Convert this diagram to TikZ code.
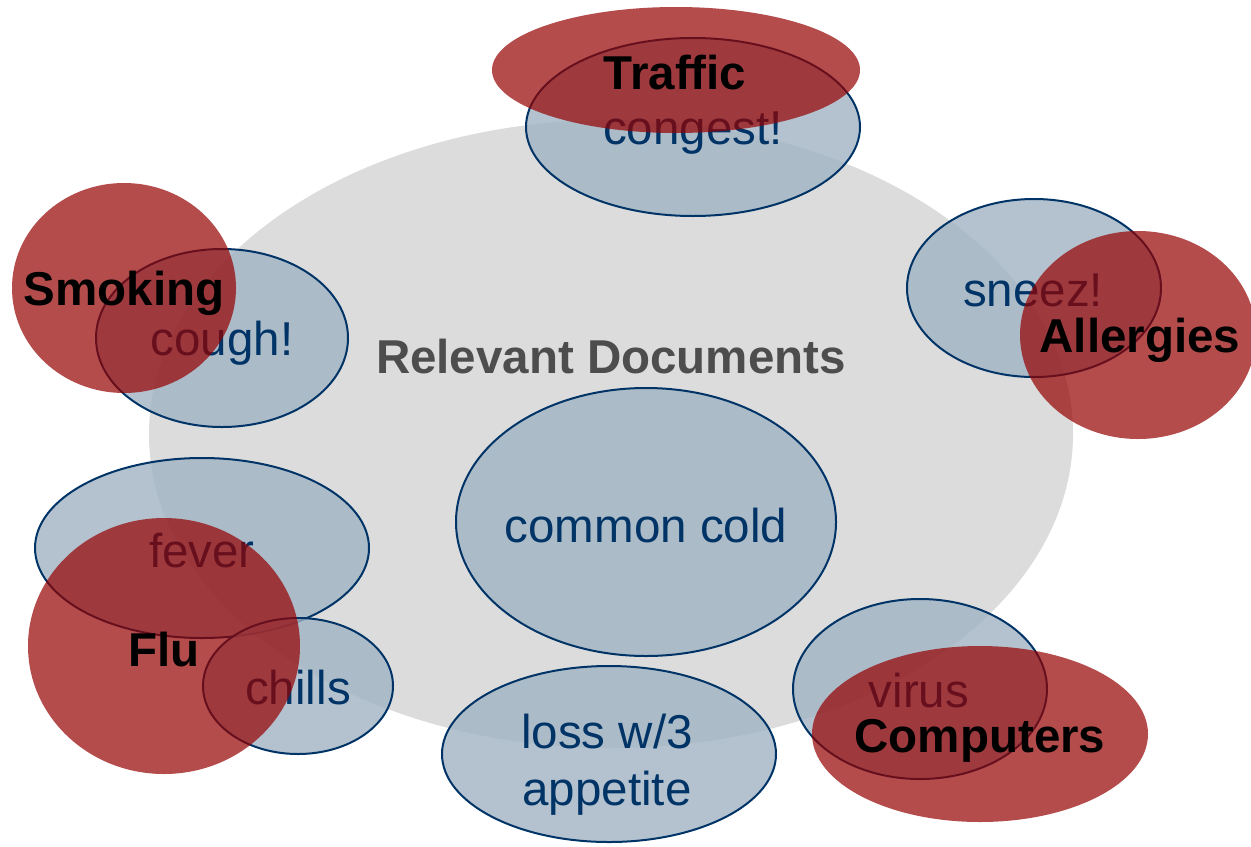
\documentclass[tikz,border=0pt]{standalone}
\usepackage{fontspec}
\setmainfont{Liberation Sans}
\usetikzlibrary{shapes.geometric}
\definecolor{docgray}{RGB}{220,220,220}
\definecolor{bluefill}{RGB}{161,179,195}
\definecolor{navy}{RGB}{0,51,102}
\definecolor{redfill}{RGB}{149,0,0}
\definecolor{titlegray}{RGB}{77,77,77}
\tikzset{
  docs/.style={ellipse, fill=docgray, inner sep=0pt},
  term/.style={ellipse, fill=bluefill, fill opacity=0.8, draw=navy, line width=1pt, inner sep=0pt},
  topic/.style={ellipse, fill=redfill, fill opacity=0.7, inner sep=0pt},
  termtext/.style={text=navy, font=\fontsize{23.75}{28.5}\selectfont, align=center, inner sep=0pt},
  topictext/.style={text=black, font=\fontsize{23.75}{28.5}\selectfont\bfseries, inner sep=0pt},
  titletext/.style={text=titlegray, font=\fontsize{23.75}{28.5}\selectfont\bfseries, inner sep=0pt}
}
\begin{document}
\begin{tikzpicture}[x=0.5pt, y=-0.5pt]
\useasboundingbox (0,0) rectangle (1251,846);
% background set
\node[docs, minimum width=462pt, minimum height=314pt] (docs) at (611,434) {};
\node[titletext] (title) at (611,357) {Relevant Documents};
% term ellipses
\node[term, minimum width=167pt, minimum height=89pt] (congest) at (693,127) {};
\node[term, minimum width=126pt, minimum height=89pt] (cough) at (222,338) {};
\node[term, minimum width=127pt, minimum height=89pt] (sneez) at (1034,288) {};
\node[term, minimum width=190pt, minimum height=134pt] (cold) at (646,522) {};
\node[term, minimum width=167pt, minimum height=90pt] (fever) at (202,548) {};
\node[term, minimum width=95pt, minimum height=68pt] (chills) at (298,686) {};
\node[term, minimum width=167pt, minimum height=88pt] (loss) at (609,754) {};
\node[term, minimum width=127pt, minimum height=90pt] (virus) at (920,689) {};
% term texts
\node[termtext] (tcongest) at (693,133) {congest!};
\node[termtext] (tcough) at (222,343) {cough!};
\node[termtext] (tsneez) at (1033,290) {sneez!};
\node[termtext] (tcold) at (646,526) {common cold};
\node[termtext] (tfever) at (202,551) {fever};
\node[termtext] (tchills) at (298,688) {chills};
\node[termtext] (tloss) at (607,765) {loss w/3\\appetite};
\node[termtext] (tvirus) at (919,691) {virus};
% topic ellipses
\node[topic, minimum width=184pt, minimum height=63pt] (traffic) at (676,70) {};
\node[topic, minimum width=112pt, minimum height=105pt] (smoking) at (124,288) {};
\node[topic, minimum width=118pt, minimum height=104pt] (allergies) at (1138,335) {};
\node[topic, minimum width=136pt, minimum height=128pt] (flu) at (164,646) {};
\node[topic, minimum width=168pt, minimum height=88pt] (computers) at (980,734) {};
% topic texts
\node[topictext] (ttraffic) at (675,73) {Traffic};
\node[topictext] (tsmoking) at (124,293) {Smoking};
\node[topictext] (tallergies) at (1140,340) {Allergies};
\node[topictext] (tflu) at (164,650) {Flu};
\node[topictext] (tcomputers) at (980,741) {Computers};
\end{tikzpicture}
\end{document}
